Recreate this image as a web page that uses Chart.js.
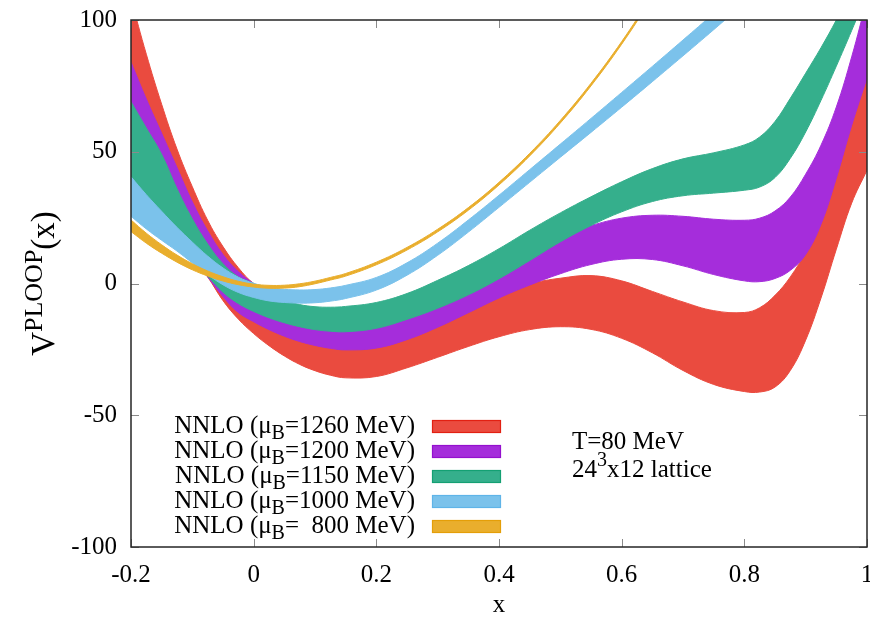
<!DOCTYPE html>
<html>
<head>
<meta charset="utf-8">
<script src="https://cdn.jsdelivr.net/npm/chart.js@4/dist/chart.umd.min.js"></script>
<style>
  html, body { margin: 0; padding: 0; background: #fff; }
  canvas { display: block; }
</style>
</head>
<body>
<canvas id="c" width="870" height="619"></canvas>
<script>
// x grid shared by all bands
const xs = [-0.2, -0.175, -0.15, -0.125, -0.1, -0.075, -0.05, -0.025,
            0, 0.025, 0.05, 0.075, 0.1, 0.125, 0.15,
            0.2, 0.25, 0.3, 0.35, 0.4, 0.45, 0.5, 0.55, 0.6, 0.65, 0.7, 0.75, 0.8,
            0.825, 0.85, 0.875, 0.9, 0.925, 0.95, 0.975, 1.0];

// mu_B = 1260 MeV band (upper / lower edge)
const mu1260Hi = [108, 87, 68, 51, 36.7, 24, 14, 6,
                  0, -3, -6, -8.5, -10.5, -12, -13,
                  -14, -13, -10.5, -7, -3, 0, 2, 3, 1, -3, -7, -10.3, -11,
                  -9.2, -4.5, 2.5, 12, 24, 42, 62, 82];
const mu1260Lo = [27, 23, 19, 15, 10, 2.5, -6.5, -13.5,
                  -19, -23.6, -27.5, -30.7, -33.1, -34.8, -35.8,
                  -35.3, -32, -28, -23.9, -20.2, -17.5, -16.4, -17.4, -20.8, -26.3, -33, -38.3, -41,
                  -41.2, -39.3, -33, -21.5, -5.5, 13, 30.5, 43];

// mu_B = 1200 MeV band
const mu1200Hi = [84, 70, 57, 44, 31, 20, 11, 4.5,
                  0, -3.8, -7, -9.5, -11, -12, -12.5,
                  -12, -9, -4.5, 1, 7, 13, 18.5, 22, 24.8, 25.9, 25.5, 24.4, 24,
                  24.8, 27.5, 32.8, 41.5, 52.5, 67, 86, 108];
const mu1200Lo = [31, 26, 21, 15.5, 9.5, 2.5, -5, -11,
                  -14.5, -17.5, -20, -22, -23.5, -24.6, -25.2,
                  -24.5, -21.3, -16.6, -11.1, -5.5, -0.6, 3.7, 7.2, 9.2, 9.1, 6.7, 3.4, 1,
                  0.7, 1.9, 5, 11, 22.5, 40, 60, 78];

// mu_B = 1150 MeV band
const mu1150Hi = [69, 59, 49, 36, 24.5, 15, 7.5, 2.5,
                  0, -3.5, -6.2, -8, -8.8, -9, -8.7,
                  -7.2, -3.8, 1.2, 6.8, 13.2, 20.2, 26.8, 32.9, 38.6, 43.6, 47.3, 49.6, 52.6,
                  55.6, 61.5, 70.3, 79.8, 89.5, 100, 111.5, 124];
const mu1150Lo = [30, 25, 20, 14.5, 9, 2.8, -3.3, -7.6,
                  -10.6, -13, -14.9, -16.4, -17.5, -18.1, -18.3,
                  -17, -13.6, -9.4, -4.3, 1.8, 8.7, 15.8, 22, 27.2, 31.1, 33.3, 34.3, 35.4,
                  36.6, 40.2, 47.5, 57.5, 69.5, 82.5, 96, 110];

// mu_B = 1000 MeV band (leaves the frame near x = 0.76)
const mu1000Hi = [40.5, 33.7, 27.4, 21.3, 15.7, 10.4, 5.9, 2.4,
                  0.1, -1.4, -2.2, -2.45, -2.3, -1.7, -0.7,
                  2.3, 7.85, 15.3, 24.1, 33.5, 43.2, 52.9, 62.65, 72.5, 82.4, 92.4, 102.5, 112.8];
const mu1000Lo = [25.5, 20.7, 16.4, 12.3, 7.8, 3.4, -0.5, -3.4,
                  -5.3, -6.6, -7.2, -7.45, -7.3, -6.7, -5.7,
                  -2.5, 3.15, 10.7, 19.5, 28.9, 38.4, 47.9, 57.35, 66.9, 76.6, 86.4, 96.3, 106.4];

// mu_B = 800 MeV band (narrow, leaves the frame near x = 0.62)
const mu800Hi = [24.1, 19.1, 14.7, 10.8, 7.5, 4.75, 2.55, 0.85,
                 -0.25, -0.7, -0.65, -0.1, 0.9, 2.3, 3.8,
                 8.1, 13.7, 20.6, 28.8, 38.4, 49.4, 61.9, 76, 91.8, 109.4];
const mu800Lo = [19.7, 15.3, 11.5, 8.1, 5.2, 2.85, 0.95, -0.45,
                 -1.35, -1.8, -1.75, -1.2, -0.1, 1.3, 2.8,
                 7.1, 12.7, 19.6, 27.8, 37.4, 48.4, 60.9, 75, 90.8, 108.4];

const muLabels = ['1260', '1200', '1150', '1000', '  800'];
const xTickValues = [-0.2, 0, 0.2, 0.4, 0.6, 0.8, 1];
const xTickLabels = ['-0.2', '0', '0.2', '0.4', '0.6', '0.8', '1'];
const yTickValues = [-100, -50, 0, 50, 100];
const yTickLabels = ['-100', '-50', '0', '50', '100'];

const bands = [
  { label: muLabels[0], hi: mu1260Hi, lo: mu1260Lo, fill: 'rgb(234,75,63)',  edge: 'rgb(226,32,18)' },
  { label: muLabels[1], hi: mu1200Hi, lo: mu1200Lo, fill: 'rgb(165,45,219)', edge: 'rgb(148,16,206)' },
  { label: muLabels[2], hi: mu1150Hi, lo: mu1150Lo, fill: 'rgb(53,175,140)', edge: 'rgb(20,160,115)' },
  { label: muLabels[3], hi: mu1000Hi, lo: mu1000Lo, fill: 'rgb(123,194,235)', edge: 'rgb(95,180,232)' },
  { label: muLabels[4], hi: mu800Hi,  lo: mu800Lo,  fill: 'rgb(233,174,45)', edge: 'rgb(228,158,8)' }
];

const toPoints = arr => arr.map((v, i) => ({ x: xs[i], y: v }));

// first band in the list is painted first (lowest layer)
const datasets = [];
bands.forEach((b, k) => {
  const order = bands.length - k;
  const common = {
    pointRadius: 0, pointHoverRadius: 0, borderWidth: 1,
    borderColor: b.fill, tension: 0.4, order: order, clip: 0
  };
  datasets.push(Object.assign({ data: toPoints(b.hi), fill: '+1', backgroundColor: b.fill }, common));
  datasets.push(Object.assign({ data: toPoints(b.lo), fill: false }, common));
});

const SERIF = '"Liberation Serif", "DejaVu Serif", serif';
const FS = 25;

// draws a run of text pieces (normal / sub / sup) starting at x on baseline y
function richWidth(ctx, parts) {
  let w = 0;
  parts.forEach(p => { ctx.font = (p.size || FS) + 'px ' + SERIF; w += ctx.measureText(p.t).width; });
  return w;
}
function drawRich(ctx, parts, x, y) {
  let cx = x;
  parts.forEach(p => {
    ctx.font = (p.size || FS) + 'px ' + SERIF;
    ctx.fillText(p.t, cx, y + (p.dy || 0));
    cx += ctx.measureText(p.t).width;
  });
}

const decor = {
  id: 'decor',
  afterDatasetsDraw(chart) {
    const { ctx, chartArea: a, scales: { x, y } } = chart;
    ctx.save();
    // inward tick marks on all four sides
    ctx.strokeStyle = '#8a8a8a';
    ctx.lineWidth = 1;
    ctx.beginPath();
    xTickValues.forEach(v => {
      const px = Math.round(x.getPixelForValue(v)) + 0.5;
      ctx.moveTo(px, a.bottom); ctx.lineTo(px, a.bottom - 8);
      ctx.moveTo(px, a.top); ctx.lineTo(px, a.top + 8);
    });
    yTickValues.forEach(v => {
      const py = Math.round(y.getPixelForValue(v)) + 0.5;
      ctx.moveTo(a.left, py); ctx.lineTo(a.left + 8, py);
      ctx.moveTo(a.right, py); ctx.lineTo(a.right - 8, py);
    });
    ctx.stroke();
    // plot frame
    ctx.strokeStyle = '#262626';
    ctx.lineWidth = 1.5;
    ctx.strokeRect(a.left, a.top, a.width, a.height);
    ctx.restore();
  },
  afterDraw(chart) {
    const { ctx, chartArea: a } = chart;
    ctx.save();
    ctx.fillStyle = '#000';
    ctx.textBaseline = 'alphabetic';

    // key: right-aligned text with a colour swatch to its right
    const textRight = 415, swX = 432, swW = 69, swH = 13, row0 = 433, rowH = 25;
    bands.forEach((b, i) => {
      const base = row0 + i * rowH;
      const parts = [
        { t: 'NNLO (\u03BC' },
        { t: 'B', size: 20, dy: 6 },
        { t: '=' + b.label + ' MeV)' }
      ];
      const w = richWidth(ctx, parts);
      ctx.fillStyle = '#000';
      drawRich(ctx, parts, textRight - w, base);
      ctx.fillStyle = b.fill;
      ctx.fillRect(swX, base - swH, swW, swH);
      ctx.strokeStyle = b.edge;
      ctx.lineWidth = 1.2;
      ctx.strokeRect(swX + 0.5, base - swH + 0.5, swW - 1, swH - 1);
    });

    // run parameters
    ctx.fillStyle = '#000';
    drawRich(ctx, [{ t: 'T=80 MeV' }], 572, 449);
    drawRich(ctx, [{ t: '24' }, { t: '3', size: 20, dy: -11 }, { t: 'x12 lattice' }], 572, 477);

    // axis titles
    ctx.font = FS + 'px ' + SERIF;
    ctx.textAlign = 'center';
    ctx.fillText('x', (a.left + a.right) / 2, 612);
    ctx.textAlign = 'left';

    const yParts = [{ t: 'V', size: 33 }, { t: 'PLOOP', size: 26, dy: -12 }, { t: '(x)', size: 33 }];
    const yw = richWidth(ctx, yParts);
    ctx.translate(54, (a.top + a.bottom) / 2);
    ctx.rotate(-Math.PI / 2);
    drawRich(ctx, yParts, -yw / 2, 0);
    ctx.restore();
  }
};

Chart.defaults.font.family = SERIF;
Chart.defaults.font.size = FS;
Chart.defaults.color = '#000';

// keep the plot frame fixed: no extra room reserved for edge labels
function fixBox(size) {
  return s => {
    if (s.isHorizontal()) s.height = size; else s.width = size;
    s.paddingLeft = s.paddingRight = s.paddingTop = s.paddingBottom = 0;
  };
}

new Chart(document.getElementById('c'), {
  type: 'line',
  data: { datasets: datasets },
  options: {
    responsive: false,
    animation: false,
    events: [],
    layout: { padding: { left: 0, top: 20, right: 3, bottom: 0 } },
    scales: {
      x: {
        type: 'linear', min: -0.2, max: 1,
        afterBuildTicks: s => { s.ticks = xTickValues.map(v => ({ value: v })); },
        afterFit: fixBox(72),
        ticks: {
          padding: 13, maxRotation: 0, autoSkip: false,
          callback: (v, i) => xTickLabels[i]
        },
        grid: { display: false, drawTicks: false },
        border: { display: false }
      },
      y: {
        type: 'linear', min: -100, max: 100,
        afterBuildTicks: s => { s.ticks = yTickValues.map(v => ({ value: v })); },
        afterFit: fixBox(131),
        ticks: {
          padding: 14,
          callback: (v, i) => yTickLabels[i]
        },
        grid: { display: false, drawTicks: false },
        border: { display: false }
      }
    },
    plugins: {
      legend: { display: false },
      tooltip: { enabled: false },
      filler: { propagate: false }
    }
  },
  plugins: [decor]
});
</script>
</body>
</html>
